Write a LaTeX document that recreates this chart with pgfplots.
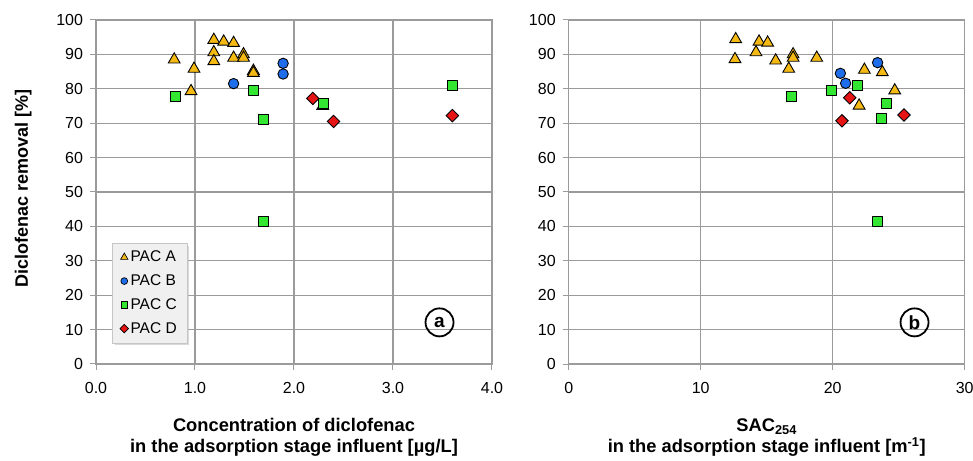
\documentclass[border=0pt]{standalone}
\usepackage{pgfplots}
\pgfplotsset{compat=1.18}
\usepackage{fontspec}
\setmainfont{Liberation Sans}
\usetikzlibrary{shadows}
\definecolor{cA}{RGB}{245,185,20}
\definecolor{cB}{RGB}{30,110,235}
\definecolor{cC}{RGB}{50,230,50}
\definecolor{cD}{RGB}{230,20,20}
\definecolor{gridc}{RGB}{155,155,155}
\pgfplotsset{
  common/.style={
    scale only axis, width=396bp, height=344bp,
    ymin=0, ymax=100, ytick={0,10,...,100},
    grid=major, major grid style={draw=gridc, line width=1.2bp},
    axis line style={draw=gridc, line width=1.2bp},
    tick style={draw=gridc, line width=1bp},
    tick align=outside, major tick length=6bp,
    ytick pos=left, xtick pos=bottom,
    /pgf/number format/assume math mode=true,
    tick label style={font=\fontsize{16bp}{18bp}\selectfont},
    xticklabel style={yshift=-8.5bp},
    yticklabel style={xshift=-3.5bp},
    xlabel style={at={(axis description cs:0.5,0)}, anchor=north, yshift=-51bp, align=center, font=\bfseries\fontsize{18.3bp}{21bp}\selectfont},
    clip=false,
  },
  mA/.style={only marks, mark=triangle*, mark size=6.8bp, mark options={fill=cA, draw=black, line width=0.9bp}},
  mB/.style={only marks, mark=*, mark size=5.2bp, mark options={fill=cB, draw=black, line width=0.9bp}},
  mC/.style={only marks, mark=square*, mark size=5bp, mark options={fill=cC, draw=black, line width=0.9bp}},
  mD/.style={only marks, mark=square*, mark size=4.4bp, mark options={rotate=45, fill=cD, draw=black, line width=0.9bp}},
}
\begin{document}
\begin{tikzpicture}
\path[use as bounding box] (0,0) rectangle (973bp,461bp);
% ---------- panel a ----------
\begin{axis}[common, at={(96bp,97bp)}, anchor=south west,
  xmin=0, xmax=4, xtick={0,1,2,3,4},
  xticklabel style={/pgf/number format/.cd, fixed, fixed zerofill, precision=1},
  xlabel={Concentration of diclofenac\\in the adsorption stage influent [µg/L]},
  ylabel={Diclofenac removal [\%]},
  ylabel style={at={(axis description cs:-0.184,0.51)}, anchor=center, font=\bfseries\fontsize{18bp}{20bp}\selectfont},
  legend style={at={(0.04,0.352)}, anchor=north west, fill=gray!12, draw=gray!45,
    drop shadow={fill=gray!60, shadow xshift=2.5bp, shadow yshift=-2.5bp},
    font=\fontsize{15.5bp}{17bp}\selectfont, row sep=7.5bp, inner xsep=8bp, inner ysep=6bp,
    /tikz/every even column/.append style={column sep=0bp}},
  legend cell align=left,
  legend image code/.code={\draw[#1] plot coordinates {(4bp,0bp)};},
]
\addlegendimage{only marks, mark=triangle*, mark size=4.2bp, mark options={fill=cA, draw=black, line width=0.7bp}}
\addlegendentry{PAC A}
\addlegendimage{only marks, mark=*, mark size=3.4bp, mark options={fill=cB, draw=black, line width=0.7bp}}
\addlegendentry{PAC B}
\addlegendimage{only marks, mark=square*, mark size=3.3bp, mark options={fill=cC, draw=black, line width=0.7bp}}
\addlegendentry{PAC C}
\addlegendimage{only marks, mark=square*, mark size=3bp, mark options={rotate=45, fill=cD, draw=black, line width=0.7bp}}
\addlegendentry{PAC D}
\addplot[mA, forget plot] coordinates {
 (0.79,88.5) (0.99,85.8) (0.96,79.3) (1.19,94.2) (1.29,93.7) (1.39,93.3)
 (1.19,90.6) (1.19,88.0) (1.39,89.0) (1.49,90.0) (1.49,89.0) (1.59,85.2)
 (1.59,84.6) (2.29,75.0)};
\addplot[mB, forget plot] coordinates {(1.39,81.5) (1.89,87.4) (1.89,84.3)};
\addplot[mC, forget plot] coordinates {(0.80,77.7) (1.59,79.4) (1.69,71.2) (2.30,75.8) (1.69,41.4) (3.60,80.9)};
\addplot[mD, forget plot] coordinates {(2.19,77.2) (2.40,70.5) (3.60,72.2)};
\node[draw=black, circle, line width=1.8bp, minimum size=28bp, inner sep=0pt, font=\fontsize{19bp}{19bp}\selectfont\bfseries] at (axis cs:3.47,12.1) {a};
\end{axis}
% ---------- panel b ----------
\begin{axis}[common, at={(568.7bp,97bp)}, anchor=south west,
  xmin=0, xmax=30, xtick={0,10,20,30},
  xlabel={SAC\textsubscript{254}\\in the adsorption stage influent [m\textsuperscript{-1}]},
]
\addplot[mA] coordinates {
 (12.65,94.4) (14.42,93.7) (15.07,93.4) (12.6,88.6) (14.19,90.6) (15.68,88.2)
 (17.0,90.0) (17.0,89.0) (16.67,85.8) (18.79,89.0) (22.4,85.5) (23.76,84.8)
 (24.7,79.5) (22.0,75.1)};
\addplot[mB] coordinates {(23.4,87.6) (20.58,84.5) (20.98,81.6)};
\addplot[mC] coordinates {(16.86,77.9) (19.9,79.6) (21.9,80.9) (24.1,75.7) (23.66,71.3) (23.4,41.3)};
\addplot[mD] coordinates {(21.29,77.4) (20.7,70.7) (25.4,72.4)};
\node[draw=black, circle, line width=1.8bp, minimum size=28bp, inner sep=0pt, font=\fontsize{19bp}{19bp}\selectfont\bfseries] at (axis cs:26.2,12.1) {b};
\end{axis}
\end{tikzpicture}
\end{document}
